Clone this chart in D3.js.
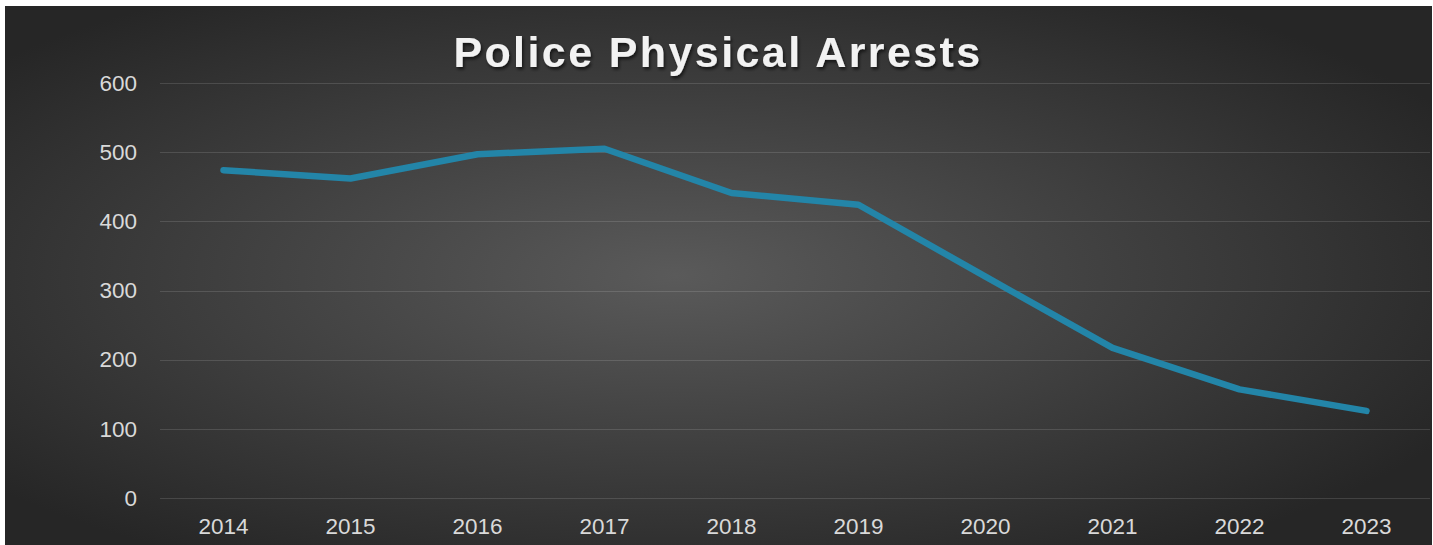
<!DOCTYPE html>
<html>
<head>
<meta charset="utf-8">
<script src="https://cdn.jsdelivr.net/npm/d3@7"></script>
<style>
  html, body { margin: 0; padding: 0; background: #fff; }
  svg { display: block; }
</style>
</head>
<body>
<div id="chart"></div>
<script>
// chart data
const years = ['2014', '2015', '2016', '2017', '2018', '2019', '2020', '2021', '2022', '2023'];
const arrests = [474, 462, 497, 505, 441, 424, 320, 217, 157, 126];
const yTicks = [0, 100, 200, 300, 400, 500, 600];
const title = 'Police Physical Arrests';

const width = 1433, height = 545;
const margin = { top: 83, right: 3, bottom: 47, left: 160 };

const svg = d3.select('#chart').append('svg')
  .attr('width', width)
  .attr('height', height);

const defs = svg.append('defs');

// dark radial background
const grad = defs.append('radialGradient')
  .attr('id', 'bg')
  .attr('cx', '0.47').attr('cy', '0.5').attr('r', '0.62');
grad.append('stop').attr('offset', '0%').attr('stop-color', '#5a5a5a');
grad.append('stop').attr('offset', '100%').attr('stop-color', '#262626');

const shadow = defs.append('filter').attr('id', 'tshadow')
  .attr('x', '-10%').attr('y', '-30%').attr('width', '120%').attr('height', '160%');
shadow.append('feDropShadow')
  .attr('dx', 1.5).attr('dy', 2.5).attr('stdDeviation', 1.5)
  .attr('flood-color', '#000').attr('flood-opacity', 0.6);

svg.append('rect')
  .attr('x', 5).attr('y', 6)
  .attr('width', 1427).attr('height', 539)
  .attr('fill', 'url(#bg)');

const x = d3.scaleBand()
  .domain(years)
  .range([margin.left, width - margin.right]);

const y = d3.scaleLinear()
  .domain([0, 600])
  .range([height - margin.bottom, margin.top]);

// gridlines
svg.append('g')
  .selectAll('line')
  .data(yTicks)
  .join('line')
  .attr('x1', margin.left)
  .attr('x2', width - margin.right)
  .attr('y1', d => Math.round(y(d)) + 0.5)
  .attr('y2', d => Math.round(y(d)) + 0.5)
  .attr('stroke', 'rgba(255,255,255,0.13)')
  .attr('stroke-width', 1.2);

// y axis labels
const yAxis = svg.append('g')
  .attr('transform', `translate(${margin.left - 23},0)`)
  .call(d3.axisLeft(y).tickValues(yTicks).tickSize(0).tickPadding(0));
yAxis.select('.domain').remove();
yAxis.selectAll('text')
  .attr('fill', '#d9d9d9')
  .style('font-family', '"Liberation Sans", Arial, sans-serif')
  .style('font-size', '22.5px');

// x axis labels
const xAxis = svg.append('g')
  .attr('transform', `translate(0,${height - margin.bottom})`)
  .call(d3.axisBottom(x).tickSize(0).tickPadding(20));
xAxis.select('.domain').remove();
xAxis.selectAll('text')
  .attr('fill', '#d9d9d9')
  .style('font-family', '"Liberation Sans", Arial, sans-serif')
  .style('font-size', '22.5px');

// the line
const line = d3.line()
  .x((d, i) => x(years[i]) + x.bandwidth() / 2)
  .y(d => y(d));

svg.append('path')
  .datum(arrests)
  .attr('d', line)
  .attr('fill', 'none')
  .attr('stroke', '#2385a8')
  .attr('stroke-width', 6.5)
  .attr('stroke-linecap', 'round')
  .attr('stroke-linejoin', 'round');

// title
svg.append('text')
  .attr('x', 718)
  .attr('y', 67)
  .attr('text-anchor', 'middle')
  .attr('fill', '#f2f2f2')
  .attr('filter', 'url(#tshadow)')
  .style('font-family', '"Liberation Sans", Arial, sans-serif')
  .style('font-weight', 'bold')
  .style('font-size', '43px')
  .style('letter-spacing', '2.4px')
  .text(title);
</script>
</body>
</html>
